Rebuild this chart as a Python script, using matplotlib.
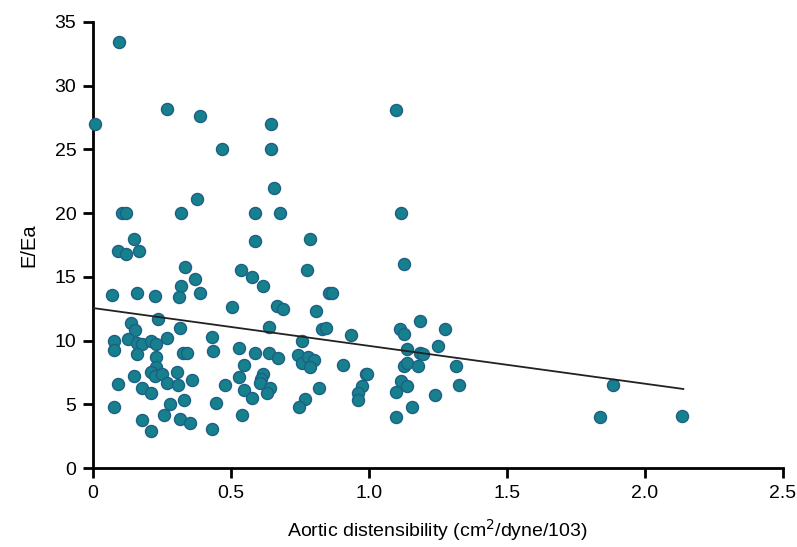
import numpy as np
import matplotlib
matplotlib.use("Agg")
import matplotlib.pyplot as plt

plt.rcParams['font.family'] = ['Liberation Sans', 'DejaVu Sans']

# aortic distensibility vs E/Ea
dist = [0.095, 0.008, 0.268, 0.388, 0.467, 0.645, 0.645, 0.657, 0.376,
        0.106, 0.120, 0.318, 0.587, 0.678, 0.150, 0.587, 0.786,
        0.089, 0.118, 0.167, 0.335, 0.537, 0.576, 0.774, 0.370, 0.617,
        0.318, 0.068, 0.160, 0.224, 0.313, 0.388, 0.856, 0.505, 0.668,
        0.687, 0.807, 0.829, 0.844, 0.237, 0.139, 0.152, 0.315, 0.268,
        0.430, 0.639, 0.758, 0.076, 0.077, 0.128, 0.160, 0.176, 0.210,
        0.230, 0.160, 0.327, 0.340, 0.436, 0.528, 0.587, 0.639, 0.669,
        0.744, 0.756, 0.778, 0.800, 0.786, 0.230, 0.548, 0.230, 0.209,
        0.225, 0.249, 0.305, 0.150, 0.360, 0.529, 0.616, 0.609, 0.605,
        0.267, 0.307, 0.092, 0.178, 0.210, 0.478, 0.548, 0.577, 0.641,
        0.632, 0.818, 0.076, 0.279, 0.329, 0.446, 0.769, 0.746, 0.178,
        0.257, 0.316, 0.350, 0.540, 0.209, 0.430,
        1.127, 0.866, 0.937, 1.112, 1.127, 1.187, 1.277, 1.249, 1.137,
        1.185, 1.197, 0.907, 0.988, 0.995, 0.975, 0.959, 0.959, 1.127,
        1.137, 1.179, 1.315, 1.115, 1.137, 1.098, 1.327, 1.238, 1.158,
        1.098, 1.099, 1.116, 1.886, 1.837, 2.135]
e_ea = [33.4, 27.0, 28.2, 27.6, 25.0, 27.0, 25.0, 22.0, 21.1,
        20.0, 20.0, 20.0, 20.0, 20.0, 18.0, 17.8, 18.0,
        17.0, 16.8, 17.0, 15.8, 15.5, 15.0, 15.5, 14.85, 14.3,
        14.3, 13.6, 13.7, 13.5, 13.4, 13.7, 13.7, 12.6, 12.7,
        12.45, 12.3, 10.9, 11.0, 11.7, 11.4, 10.8, 10.95, 10.2,
        10.25, 11.1, 10.0, 10.0, 9.25, 10.1, 9.8, 9.7, 10.0,
        9.7, 8.95, 9.05, 9.05, 9.2, 9.4, 9.05, 9.05, 8.6,
        8.9, 8.2, 8.7, 8.5, 7.9, 8.7, 8.1, 7.95, 7.5,
        7.25, 7.35, 7.55, 7.25, 6.9, 7.15, 7.4, 7.0, 6.65,
        6.65, 6.5, 6.6, 6.3, 5.85, 6.5, 6.1, 5.5, 6.25,
        5.9, 6.3, 4.8, 5.0, 5.3, 5.07, 5.45, 4.75, 3.8,
        4.15, 3.85, 3.55, 4.15, 2.9, 3.05,
        16.0, 13.7, 10.4, 10.9, 10.55, 11.5, 10.9, 9.55, 9.3,
        9.05, 8.95, 8.1, 7.4, 7.4, 6.4, 5.85, 5.3, 8.0,
        8.2, 8.0, 8.0, 6.85, 6.4, 6.0, 6.5, 5.7, 4.8,
        4.0, 28.1, 20.0, 6.5, 4.0, 4.1]

# regression line as drawn
fit_x = [0.0, 2.14]
fit_y = [12.55, 6.2]

fig = plt.figure(figsize=(7.97, 5.47), dpi=100)
ax = fig.add_axes([0.1167, 0.1444, 0.8653, 0.8156])

ax.scatter(dist, e_ea, s=75, facecolor='#17808d', edgecolor='#1d5f86',
           linewidth=1.0, zorder=3, clip_on=False)
ax.plot(fit_x, fit_y, color='#222222', linewidth=1.3, zorder=4)

ax.set_xlim(0, 2.5)
ax.set_ylim(0, 35)
ax.set_xticks([0, 0.5, 1.0, 1.5, 2.0, 2.5])
ax.set_xticklabels(['0', '0.5', '1.0', '1.5', '2.0', '2.5'])
ax.set_yticks(np.arange(0, 36, 5))

for s in ['top', 'right']:
    ax.spines[s].set_visible(False)
for s in ['left', 'bottom']:
    ax.spines[s].set_linewidth(2.0)
ax.tick_params(direction='out', length=7, width=2, labelsize=14, pad=5)

ax.set_xlabel('Aortic distensibility (cm$^2$/dyne/103)', fontsize=14, labelpad=11)
ax.set_ylabel('E/Ea', fontsize=14.5, labelpad=12)

fig.savefig('out.png', dpi=100)
